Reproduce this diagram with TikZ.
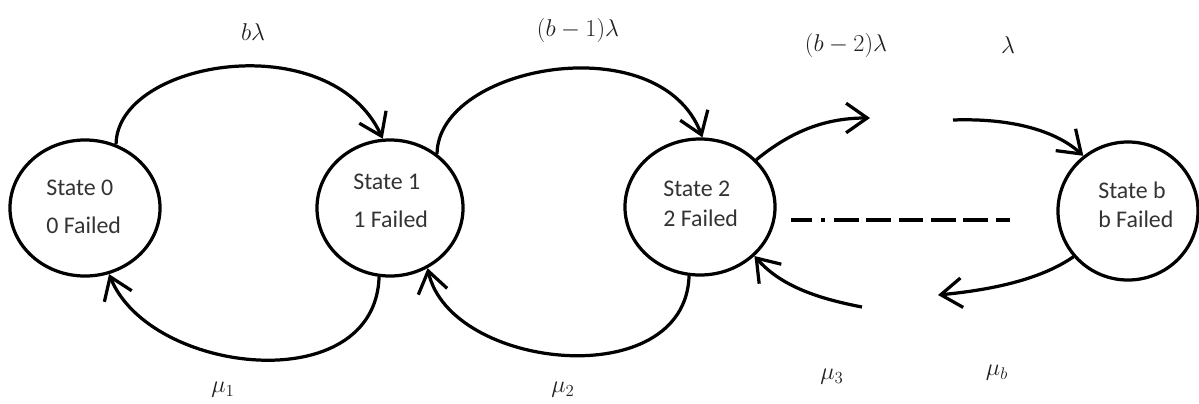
\documentclass[tikz,border=0pt]{standalone}
\usepackage{fontspec}
\setmainfont{Carlito}
\usetikzlibrary{shapes.geometric,arrows.meta}
\begin{document}
\begin{tikzpicture}[x=0.025cm,y=-0.025cm,
  statebox/.style={ellipse,draw,line width=2.3pt,inner sep=0pt},
  stext/.style={anchor=west,align=left,inner sep=0pt,text=black!80,font=\fontsize{17}{27}\selectfont},
  stextb/.style={stext,font=\fontsize{17}{21}\selectfont},
  rate/.style={text=black!88,font=\fontsize{17.5}{20}\selectfont},
  arc/.style={line width=2.3pt,-{Straight Barb[length=15pt,width=21pt]}},
  dotline/.style={line width=3pt},
]
\useasboundingbox (0,0) rectangle (1199,403);

% states
\node[statebox,minimum width=3.75cm,minimum height=3.4cm] (s0) at (85,208) {};
\node[statebox,minimum width=3.65cm,minimum height=3.4cm] (s1) at (390,208) {};
\node[statebox,minimum width=3.75cm,minimum height=3.4cm] (s2) at (700,207) {};
\node[statebox,minimum width=3.5cm,minimum height=3.45cm] (sb) at (1128,211) {};

\node[stext] (t0) at (46,207) {State 0\\0 Failed};
\node[stext] (t1) at (353,201) {State 1\\1 Failed};
\node[stextb] (t2) at (663,204) {State 2\\2 Failed};
\node[stextb] (tb) at (1098,205) {State b\\b Failed};

% rate labels
\node[rate] (l1) at (253,32) {$b\lambda$};
\node[rate] (l2) at (578,30) {$(b-1)\lambda$};
\node[rate] (l3) at (846,45) {$(b-2)\lambda$};
\node[rate] (l4) at (1008,45) {$\lambda$};
\node[rate] (m1) at (223,390) {$\mu_1$};
\node[rate] (m2) at (563,390) {$\mu_2$};
\node[rate] (m3) at (832,377) {$\mu_3$};
\node[rate] (mb) at (997,373) {$\mu_b$};

% free ends
\coordinate (e1) at (870,118);
\coordinate (e2) at (953,120);
\coordinate (e3) at (862,307);
\coordinate (e4) at (938,295);
\coordinate (d1) at (791,220);
\coordinate (d1b) at (826,220);
\coordinate (d2) at (834,220);
\coordinate (d3) at (1010,220);

% forward transitions
\draw[arc] (s0.64) .. controls (117,60) and (330,25) .. (s1.96);
\draw[arc] (s1.49) .. controls (438,65) and (660,25) .. (s2.88);
\draw[arc] (s2.40) .. controls (795,128) and (830,118) .. (e1);
\draw[arc] (e2) .. controls (1010,118) and (1055,130) .. (sb.129);

% repairs
\draw[arc] (s1.261) .. controls (375,400) and (150,375) .. (s0.290);
\draw[arc] (s2.261) .. controls (685,395) and (450,370) .. (s1.302);
\draw[arc] (e3) .. controls (815,298) and (780,285) .. (s2.318);
\draw[arc] (sb.220) .. controls (1040,280) and (990,290) .. (e4);

% ellipsis line
\draw[dotline,dash pattern=on 15pt off 6.4pt on 2.8pt off 6.4pt] (d1) -- (d1b);
\draw[dotline,dash pattern=on 17.5pt off 5.5pt] (d2) -- (d3);
\end{tikzpicture}
\end{document}
